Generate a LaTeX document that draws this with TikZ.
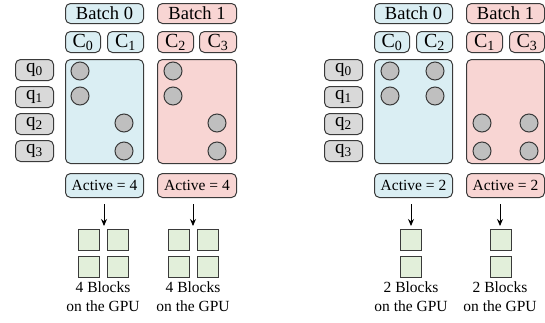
\documentclass[tikz,border=0pt]{standalone}
\usepackage{fontspec}
\setmainfont{Liberation Serif}
\usetikzlibrary{arrows.meta}
\definecolor{bluefill}{HTML}{DAEEF3}
\definecolor{pinkfill}{HTML}{F8D5D3}
\definecolor{greyfill}{HTML}{D9D9D9}
\definecolor{dotfill}{HTML}{BFBFBF}
\definecolor{blockfill}{HTML}{E2EFDA}
\definecolor{edge}{HTML}{3A3A3A}
\tikzset{
  pill/.style={draw=edge, line width=1pt, rounded corners=5pt, inner sep=0pt, anchor=north west},
  hdr/.style={pill, font=\fontsize{18.5}{20}\selectfont},
  chip/.style={pill, font=\fontsize{20}{22}\selectfont},
  qchip/.style={pill, fill=greyfill, font=\fontsize{19}{21}\selectfont},
  lbl/.style={pill, font=\fontsize{15.5}{18}\selectfont},
  dot/.style={circle, draw=edge, fill=dotfill, line width=1pt, minimum size=18pt, inner sep=0pt},
  blk/.style={draw=edge, fill=blockfill, line width=1pt, minimum size=21pt, inner sep=0pt},
  blurb/.style={align=center, font=\fontsize{15.5}{19}\selectfont},
  flow/.style={-{Stealth[length=7pt,width=6pt]}, line width=0.9pt},
}
\begin{document}
\begin{tikzpicture}[x=1pt, y=-1pt]
\useasboundingbox (0,0) rectangle (545,322);

% Query rows, repeated for both arrangements
\foreach \ox/\tag in {0/L, 309/R} {
  \foreach \i/\yy in {0/59, 1/86, 2/113, 3/140} {
    \node[qchip, minimum width=38pt, minimum height=21pt] (q\tag\i) at (15+\ox,\yy) {q\textsubscript{\i}};
  }
}

% Batch headers
\node[hdr, fill=bluefill, minimum width=78pt, minimum height=20pt] (bL0) at (65,3) {Batch 0};
\node[hdr, fill=pinkfill, minimum width=79pt, minimum height=20pt] (bL1) at (157,3) {Batch 1};
\node[hdr, fill=bluefill, minimum width=78pt, minimum height=20pt] (bR0) at (374,3) {Batch 0};
\node[hdr, fill=pinkfill, minimum width=78pt, minimum height=20pt] (bR1) at (466,3) {Batch 1};

% Key chips
\node[chip, fill=bluefill, minimum width=35pt, minimum height=21pt] (cLa) at (65,31) {C\textsubscript{0}};
\node[chip, fill=bluefill, minimum width=36pt, minimum height=21pt] (cLb) at (107,31) {C\textsubscript{1}};
\node[chip, fill=pinkfill, minimum width=36pt, minimum height=21pt] (cLc) at (157,31) {C\textsubscript{2}};
\node[chip, fill=pinkfill, minimum width=37pt, minimum height=21pt] (cLd) at (199,31) {C\textsubscript{3}};
\node[chip, fill=bluefill, minimum width=35pt, minimum height=21pt] (cRa) at (374,31) {C\textsubscript{0}};
\node[chip, fill=bluefill, minimum width=36pt, minimum height=21pt] (cRb) at (416,31) {C\textsubscript{2}};
\node[chip, fill=pinkfill, minimum width=36pt, minimum height=21pt] (cRc) at (466,31) {C\textsubscript{1}};
\node[chip, fill=pinkfill, minimum width=35pt, minimum height=21pt] (cRd) at (509,31) {C\textsubscript{3}};

% Attention score panels
\node[pill, fill=bluefill, minimum width=78pt, minimum height=104pt] (pL0) at (65,59) {};
\node[pill, fill=pinkfill, minimum width=79pt, minimum height=104pt] (pL1) at (157,59) {};
\node[pill, fill=bluefill, minimum width=78pt, minimum height=104pt] (pR0) at (374,59) {};
\node[pill, fill=pinkfill, minimum width=78pt, minimum height=104pt] (pR1) at (466,59) {};

% Nonzero entries
\foreach \x/\y [count=\n] in {80/71, 80/96, 124/123, 124/151,
                               173/71, 173/96, 217/123, 217/151,
                               390/71, 435/71, 390/96, 435/96,
                               482/123, 529/123, 482/151, 529/151} {
  \node[dot] (d\n) at (\x,\y) {};
}

% Active counts
\node[lbl, fill=bluefill, minimum width=78pt, minimum height=24pt] (aL0) at (65,173) {Active = 4};
\node[lbl, fill=pinkfill, minimum width=79pt, minimum height=24pt] (aL1) at (157,173) {Active = 4};
\node[lbl, fill=bluefill, minimum width=78pt, minimum height=24pt] (aR0) at (374,173) {Active = 2};
\node[lbl, fill=pinkfill, minimum width=78pt, minimum height=24pt] (aR1) at (466,173) {Active = 2};

% GPU blocks
\node[blk] (gL0a) at (89,239.5) {};  \node[blk] (gL0b) at (118,239.5) {};
\node[blk] (gL0c) at (89,267) {};    \node[blk] (gL0d) at (118,267) {};
\node[blk] (gL1a) at (178.5,239.5) {}; \node[blk] (gL1b) at (207.5,239.5) {};
\node[blk] (gL1c) at (178.5,267) {};   \node[blk] (gL1d) at (207.5,267) {};
\node[blk] (gR0a) at (410.5,239.5) {}; \node[blk] (gR0c) at (410.5,267) {};
\node[blk] (gR1a) at (500.5,239.5) {}; \node[blk] (gR1c) at (500.5,267) {};

% Arrows from the counts down to the blocks
\coordinate (tL0) at (104,226);
\coordinate (tL1) at (193,226);
\coordinate (tR0) at (411,226);
\coordinate (tR1) at (500,226);
\draw[flow] (aL0.south -| tL0) ++(0,6) -- (tL0);
\draw[flow] (aL1.south -| tL1) ++(0,6) -- (tL1);
\draw[flow] (aR0.south -| tR0) ++(0,6) -- (tR0);
\draw[flow] (aR1.south -| tR1) ++(0,6) -- (tR1);

% Captions
\node[blurb] (kL0) at (103,296.5) {4 Blocks\\on the GPU};
\node[blurb] (kL1) at (193,296.5) {4 Blocks\\on the GPU};
\node[blurb] (kR0) at (411,296.5) {2 Blocks\\on the GPU};
\node[blurb] (kR1) at (500,296.5) {2 Blocks\\on the GPU};
\end{tikzpicture}
\end{document}
